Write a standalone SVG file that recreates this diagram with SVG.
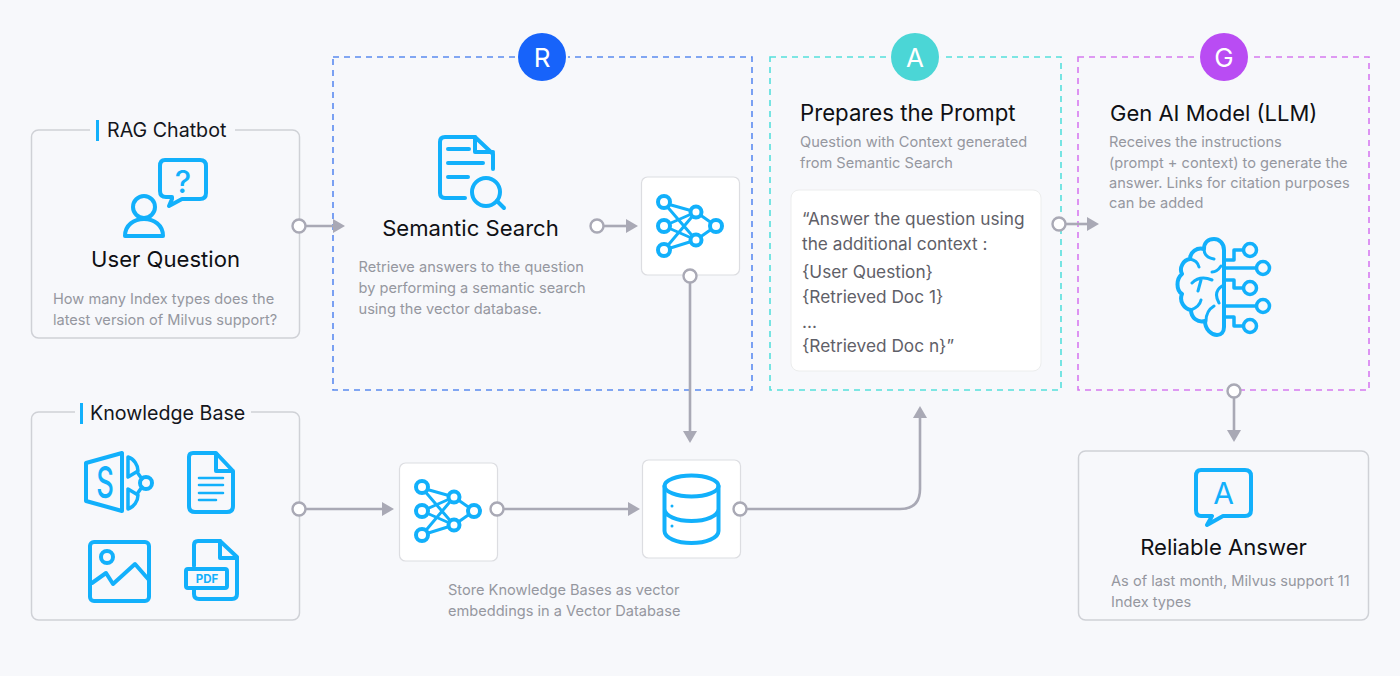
<svg xmlns="http://www.w3.org/2000/svg" width="1400" height="676" viewBox="0 0 1400 676">
<style>
text{font-family:Inter,"Liberation Sans",sans-serif}
.t{font-size:22.1px;fill:#0f1014;text-anchor:middle}
.h{font-size:19.650px;fill:#14161c}
.d{font-size:14.600px;fill:#95979f}
.q{font-size:17.250px;fill:#5f6068}
.box{fill:#f7f8fb;stroke:#cfd1d6;stroke-width:1.500}
.w{fill:#fff;stroke:#dcdde1;stroke-width:1.200}
.i{fill:none;stroke:#12b0fb;stroke-width:4;stroke-linecap:round;stroke-linejoin:round}
.n{fill:none;stroke:#12b0fb;stroke-width:3}
.c{fill:none;stroke:#a9a9b5;stroke-width:2.600}
.o{fill:#fff;stroke:#a9a9b5;stroke-width:2.400}
.a{fill:#a9a9b5}
.b{font-size:26px;fill:#fff;text-anchor:middle}
.bar{fill:#12b0fb}
.g{fill:#f7f8fb}
</style>
<defs>
<g id="net">
<path class="n" d="M-32-23 L0-14 M-32-23 L0 14 M-32 0 L0-14 M-32 0 L0 14 M-32 24 L0-14 M-32 24 L0 14 M0-14 L20 0 M0 14 L20 0"/>
<g fill="#fff" stroke="#12b0fb" stroke-width="4">
<circle cx="-32" cy="-24" r="6"/><circle cx="-32" cy="0" r="6"/><circle cx="-32" cy="24" r="6"/>
<circle cx="0" cy="-14" r="5.500"/><circle cx="0" cy="14" r="5.500"/><circle cx="20" cy="0" r="6"/>
</g>
</g>
</defs>
<rect width="1400" height="676" fill="#f7f8fb"/>

<g id="rag-chatbot">
<rect class="box" x="31.500" y="130" width="268" height="208" rx="7"/>
<rect class="g" x="90" y="118" width="145" height="24"/>
<rect class="bar" x="96" y="120" width="3" height="21"/>
<text class="h" x="107" y="137">RAG Chatbot</text>
<path class="i" d="M165 160H200Q206 160 206 166V193Q206 199 200 199H182L169 206L172 199V197H166Q160 197 160 191V166Q160 160 165 160Z"/>
<text x="183" y="193" font-size="31" font-weight="500" fill="#12b0fb" text-anchor="middle">?</text>
<circle class="i" cx="144" cy="207" r="11"/>
<path class="i" d="M125 236C125 225 134 219 144 219C154 219 163 225 163 236Z"/>
<text class="t" x="165.500" y="267">User Question</text>
<text class="d" x="53" y="304">How many Index types does the</text>
<text class="d" x="53" y="325">latest version of Milvus support?</text>
</g>

<g id="retrieve">
<rect x="333" y="57" width="419" height="333" fill="none" stroke="#5b8bf0" stroke-width="1.600" stroke-dasharray="6 5"/>
<circle cx="542" cy="57" r="26" fill="#f7f8fb"/>
<circle cx="542" cy="57" r="24" fill="#1763fa"/>
<text class="b" x="542" y="67">R</text>
<path class="i" d="M465 198H445Q440 198 440 193V142Q440 137 445 137H475L493 154V169"/>
<path class="i" d="M475 137V152H493"/>
<path class="i" d="M448 149H469M448 163H483M448 177H468"/>
<circle class="i" cx="486" cy="192" r="14"/>
<path class="i" d="M497 201L504 208"/>
<text class="t" x="470.500" y="236">Semantic Search</text>
<text class="d" x="358.500" y="272">Retrieve answers to the question</text>
<text class="d" x="358.500" y="293">by performing a semantic search</text>
<text class="d" x="358.500" y="314">using the vector database.</text>
</g>

<g id="embed-top">
<rect class="w" x="641.500" y="177" width="98" height="98" rx="6"/>
<use href="#net" x="696" y="226"/>
</g>

<g id="prepare">
<rect x="770" y="57" width="291" height="333" fill="none" stroke="#55dfdc" stroke-width="1.600" stroke-dasharray="6 5"/>
<circle cx="915" cy="57" r="26" fill="#f7f8fb"/>
<circle cx="915" cy="57" r="24" fill="#4bd6d6"/>
<text class="b" x="915" y="67">A</text>
<text x="800" y="121" font-size="22.200" fill="#0f1014">Prepares the Prompt</text>
<text class="d" x="800" y="147">Question with Context generated</text>
<text class="d" x="800" y="168">from Semantic Search</text>
<rect x="791" y="190" width="250" height="181" rx="8" fill="#fff" stroke="#eceded"/>
<text class="q" x="802" y="225">“Answer the question using</text>
<text class="q" x="802" y="250">the additional context :</text>
<text class="q" x="802" y="278">{User Question}</text>
<text class="q" x="802" y="303">{Retrieved Doc 1}</text>
<text class="q" x="802" y="328">...</text>
<text class="q" x="802" y="352">{Retrieved Doc n}”</text>
</g>

<g id="generate">
<rect x="1078" y="57" width="291" height="333" fill="none" stroke="#d67af0" stroke-width="1.600" stroke-dasharray="6 5"/>
<circle cx="1224" cy="57" r="26" fill="#f7f8fb"/>
<circle cx="1224" cy="57" r="24" fill="#b94cf3"/>
<text class="b" x="1224" y="67">G</text>
<text x="1110" y="121" font-size="22" fill="#0f1014">Gen AI Model (LLM)</text>
<text class="d" x="1109" y="147">Receives the instructions</text>
<text class="d" x="1109" y="168">(prompt + context) to generate the</text>
<text class="d" x="1109" y="188">answer. Links for citation purposes</text>
<text class="d" x="1109" y="208">can be added</text>
<path class="i" d="M1224 250C1224 243 1219 239 1214 239C1208 239 1204 243 1204 249C1197 247 1190 252 1190 259C1183 260 1179 268 1182 274C1176 279 1176 290 1182 294C1179 301 1184 309 1191 310C1191 318 1198 323 1205 321C1205 330 1212 335 1217 335C1221 335 1224 332 1224 327Z"/>
<path class="i" style="stroke-width:3" d="M1190 259C1195 260 1198 263 1199 267M1204 249C1204 255 1208 258 1214 259M1212 272C1216 272 1219 269 1221 266M1192 283C1198 277 1205 277 1212 280M1201 280L1198 291M1222 286C1216 290 1215 296 1219 303M1191 310C1196 308 1200 305 1201 300M1206 321C1206 314 1209 309 1214 306"/>
<path class="i" style="stroke-width:3.500" d="M1226 260H1234V250H1244M1226 268H1257M1226 280H1234V288H1244M1226 306H1257M1226 317H1234V326H1244"/>
<g fill="#f7f8fb" stroke="#12b0fb" stroke-width="3.500">
<circle cx="1250" cy="250" r="6.500"/><circle cx="1263" cy="268" r="6.500"/><circle cx="1250" cy="288" r="6.500"/><circle cx="1263" cy="306" r="6.500"/><circle cx="1250" cy="326" r="6.500"/>
</g>
</g>

<g id="knowledge-base">
<rect class="box" x="31.500" y="412" width="268" height="208" rx="7"/>
<rect class="g" x="75" y="400" width="176" height="24"/>
<rect class="bar" x="80" y="403" width="3" height="21"/>
<text class="h" x="90" y="420">Knowledge Base</text>
<path class="i" d="M86 463L122 453V511L86 501Z"/>
<text transform="translate(105 498) scale(.62 1)" font-size="44" font-weight="500" fill="#12b0fb" text-anchor="middle">S</text>
<path class="i" style="stroke-width:3.500" d="M128 457C134 459 138 465 138 471L128 477ZM128 509C134 507 138 501 138 495L128 489Z"/>
<path class="i" style="stroke-width:3.500" d="M137 472L142 479M137 494L142 487"/>
<circle class="i" cx="146" cy="483" r="6"/>
<path class="i" d="M193 453H216L233 471V506Q233 512 227 512H195Q189 512 189 506V457Q189 453 193 453ZM216 453V471H233"/>
<path class="i" style="stroke-width:2.600" d="M199 478H223M199 485H223M199 493H223M199 500H216"/>
<rect class="i" x="90" y="542" width="59" height="59" rx="4"/>
<circle class="i" cx="107" cy="557" r="6"/>
<path class="i" d="M92 583L106 573L113 584L135 564L149 580"/>
<path class="i" d="M194 566V545Q194 541 198 541H220L237 557V594Q237 599 232 599H199Q194 599 194 594V589"/>
<path class="i" d="M220 541V558H237"/>
<rect class="i" x="186" y="569" width="41" height="19" rx="2"/>
<text x="207" y="583" font-size="11.500" font-weight="700" fill="#12b0fb" text-anchor="middle">PDF</text>
</g>

<g id="embed-bottom">
<rect class="w" x="399.500" y="463" width="98" height="98" rx="6"/>
<use href="#net" x="454" y="511"/>
</g>

<g id="vector-db">
<rect class="w" x="642.500" y="460" width="98" height="98" rx="6"/>
<ellipse class="i" cx="691.500" cy="486" rx="27" ry="10.500"/>
<path class="i" d="M664.500 486V531C664.500 538 677 543 691.500 543C706 543 718.500 538 718.500 531V486M664.500 509C664.500 516 677 521 691.500 521C706 521 718.500 516 718.500 509"/>
<circle cx="672" cy="506" r="1.500" fill="#12b0fb"/><circle cx="672" cy="526" r="1.500" fill="#12b0fb"/>
</g>

<text id="store-label" class="d"><tspan x="448" y="595">Store Knowledge Bases as vector</tspan><tspan x="448" y="616">embeddings in a Vector Database</tspan></text>

<g id="reliable-answer">
<rect class="box" x="1078.500" y="451" width="290" height="169" rx="7"/>
<path class="i" d="M1201 470H1245Q1251 470 1251 476V510Q1251 516 1245 516H1223L1207 525L1212 516H1201Q1196 516 1196 510V476Q1196 470 1201 470Z"/>
<text x="1223.500" y="504" font-size="30" fill="#12b0fb" text-anchor="middle">A</text>
<text class="t" x="1223.500" y="555">Reliable Answer</text>
<text class="d" x="1111" y="586">As of last month, Milvus support 11</text>
<text class="d" x="1111" y="607">Index types</text>
</g>

<g id="connectors">
<path class="c" d="M300 226H333"/><path class="a" d="M333 219L345 226L333 233Z"/>
<path class="c" d="M597 226H627"/><path class="a" d="M626 219L638 226L626 233Z"/>
<path class="c" d="M690 276V432"/><path class="a" d="M683 431L690 443L697 431Z"/>
<path class="c" d="M300 509H383"/><path class="a" d="M382 502L394 509L382 516Z"/>
<path class="c" d="M497 509H629"/><path class="a" d="M628 502L640 509L628 516Z"/>
<path class="c" d="M740 509H900Q920 509 920 489V417"/><path class="a" d="M913 418L920 406L927 418Z"/>
<path class="c" d="M1059 224H1088"/><path class="a" d="M1087 217L1099 224L1087 231Z"/>
<path class="c" d="M1234 391V431"/><path class="a" d="M1227 430L1234 442L1241 430Z"/>
<circle class="o" cx="299" cy="226" r="6.500"/>
<circle class="o" cx="597" cy="226" r="6.500"/>
<circle class="o" cx="690" cy="276" r="6.500"/>
<circle class="o" cx="299" cy="509" r="6.500"/>
<circle class="o" cx="497" cy="509" r="6.500"/>
<circle class="o" cx="740" cy="509" r="6.500"/>
<circle class="o" cx="1059" cy="224" r="6.500"/>
<circle class="o" cx="1234" cy="391" r="6.500"/>
</g>
</svg>
